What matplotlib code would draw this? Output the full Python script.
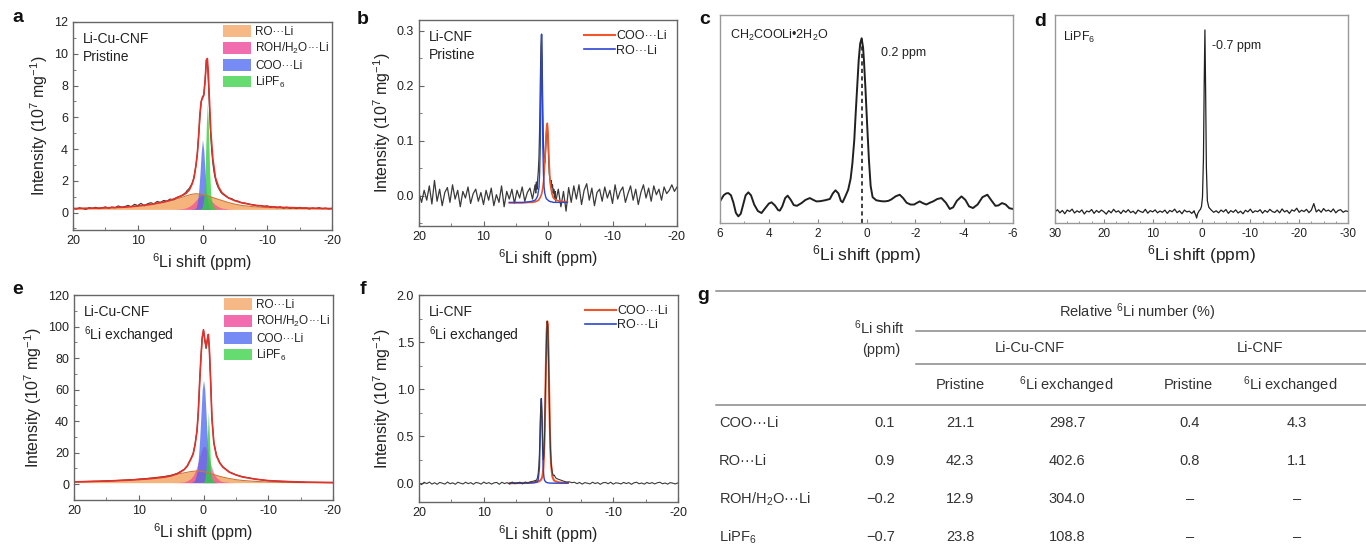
import numpy as np
import matplotlib
matplotlib.use('Agg')
from matplotlib import pyplot as plt
from matplotlib.patches import Patch
from matplotlib.lines import Line2D
from matplotlib.ticker import MultipleLocator, FormatStrFormatter

plt.rcParams['font.family'] = ['Liberation Sans', 'DejaVu Sans']
plt.rcParams['mathtext.fontset'] = 'custom'
plt.rcParams['mathtext.rm'] = 'Liberation Sans'
plt.rcParams['mathtext.it'] = 'Liberation Sans:italic'
plt.rcParams['mathtext.default'] = 'regular'
plt.rcParams['axes.unicode_minus'] = False

# ---------------- data ----------------
# shared ppm grid for fitted components of panels a and e
ppm_fit = [20, 16, 12, 10, 8, 6, 5, 4, 3, 2.5,
           2, 1.6, 1.3, 1.0, 0.8, 0.6, 0.4, 0.2, 0.0, -0.2,
           -0.4, -0.6, -0.75, -0.9, -1.1, -1.3, -1.6, -2, -2.5, -3,
           -4, -5, -6, -8, -10, -12, -16, -20]

# panel a : Li-Cu-CNF pristine
a_base = 0.2
a_ro = [0.25, 0.28, 0.34, 0.42, 0.52, 0.64, 0.73, 0.85, 0.98, 1.05,
        1.11, 1.15, 1.17, 1.18, 1.18, 1.17, 1.16, 1.15, 1.13, 1.11,
        1.09, 1.07, 1.05, 1.03, 1.0, 0.98, 0.94, 0.89, 0.82, 0.76,
        0.63, 0.53, 0.45, 0.36, 0.31, 0.28, 0.25, 0.23]
a_roh = [0.2, 0.2, 0.2, 0.2, 0.2, 0.2, 0.2, 0.21, 0.25, 0.3,
         0.4, 0.52, 0.65, 0.78, 0.87, 0.95, 1.01, 1.05, 1.07, 1.07,
         1.05, 1.01, 0.97, 0.92, 0.84, 0.76, 0.63, 0.49, 0.36, 0.28,
         0.22, 0.2, 0.2, 0.2, 0.2, 0.2, 0.2, 0.2]
a_coo = [0.2, 0.2, 0.2, 0.2, 0.2, 0.2, 0.2, 0.2, 0.2, 0.2,
         0.2, 0.21, 0.23, 0.3, 0.6, 1.3, 2.4, 3.8, 4.6, 3.9,
         2.5, 1.3, 0.75, 0.45, 0.27, 0.22, 0.2, 0.2, 0.2, 0.2,
         0.2, 0.2, 0.2, 0.2, 0.2, 0.2, 0.2, 0.2]
a_pf6 = [0.2, 0.2, 0.2, 0.2, 0.2, 0.2, 0.2, 0.2, 0.2, 0.2,
         0.2, 0.2, 0.2, 0.2, 0.2, 0.2, 0.2, 0.25, 0.4, 0.9,
         2.5, 5.6, 6.9, 5.6, 2.6, 1.0, 0.4, 0.25, 0.2, 0.2,
         0.2, 0.2, 0.2, 0.2, 0.2, 0.2, 0.2, 0.2]
a_fit = [0.25, 0.28, 0.34, 0.41, 0.51, 0.66, 0.77, 0.92, 1.1, 1.22,
         1.45, 1.8, 2.2, 3.0, 3.7, 4.8, 6.2, 7.0, 7.2, 7.4,
         8.3, 9.6, 9.7, 8.8, 6.8, 5.0, 3.4, 2.2, 1.6, 1.25,
         0.92, 0.74, 0.62, 0.46, 0.38, 0.33, 0.28, 0.25]
a_exp_left = [0.28, 0.22, 0.3, 0.25, 0.2, 0.31, 0.26, 0.33, 0.24, 0.3,
              0.36, 0.27, 0.35, 0.3, 0.42, 0.33, 0.38, 0.45, 0.36, 0.52,
              0.44, 0.58, 0.42, 0.55, 0.62, 0.55, 0.7, 0.64, 0.76, 0.72,
              0.85, 0.8, 0.95, 1.02, 1.12]                       # 20 -> 3 ppm
a_exp_mid = [1.12, 1.2, 1.25, 1.38, 1.45, 1.55, 1.7, 1.85, 2.1, 2.5,
             3.0, 3.7, 4.8, 6.0, 7.0, 7.3, 7.4, 8.3, 9.6, 9.2,
             7.4, 5.4, 4.0, 3.1, 2.5, 2.1, 1.8, 1.6, 1.45, 1.3,
             1.2]                                               # 3 -> -3 ppm
a_exp_right = [1.2, 1.05, 0.92, 0.88, 0.76, 0.72, 0.62, 0.6, 0.55, 0.5,
               0.48, 0.42, 0.45, 0.38, 0.42, 0.33, 0.38, 0.3, 0.36, 0.28,
               0.34, 0.27, 0.32, 0.25, 0.33, 0.27, 0.3, 0.22, 0.29, 0.25,
               0.31, 0.24, 0.28, 0.23, 0.27]                     # -3 -> -20 ppm

# panel e : Li-Cu-CNF 6Li exchanged
e_base = 1.0
e_ro = [1.5, 2.0, 2.6, 3.2, 4.0, 5.0, 5.7, 6.4, 7.2, 7.6,
        8.0, 8.2, 8.3, 8.4, 8.4, 8.3, 8.2, 8.1, 8.0, 7.8,
        7.6, 7.4, 7.2, 7.0, 6.8, 6.5, 6.1, 5.6, 5.0, 4.5,
        3.6, 2.9, 2.4, 1.8, 1.4, 1.2, 1.0, 1.0]
e_roh = [1.0, 1.0, 1.0, 1.0, 1.0, 1.0, 1.0, 1.1, 1.5, 2.2,
         3.5, 5.5, 8.0, 11.5, 14.5, 17.5, 20.5, 22.8, 24.0, 24.0,
         22.8, 20.5, 18.5, 16.2, 13.0, 10.2, 7.0, 4.2, 2.4, 1.6,
         1.1, 1.0, 1.0, 1.0, 1.0, 1.0, 1.0, 1.0]
e_coo = [1.0, 1.0, 1.0, 1.0, 1.0, 1.0, 1.0, 1.0, 1.0, 1.0,
         1.1, 1.5, 3.0, 8.0, 16.0, 28.0, 44.0, 60.0, 66.0, 60.0,
         44.0, 28.0, 18.0, 11.0, 6.0, 3.0, 1.6, 1.1, 1.0, 1.0,
         1.0, 1.0, 1.0, 1.0, 1.0, 1.0, 1.0, 1.0]
e_pf6 = [1.0, 1.0, 1.0, 1.0, 1.0, 1.0, 1.0, 1.0, 1.0, 1.0,
         1.0, 1.0, 1.0, 1.0, 1.0, 1.0, 1.0, 1.0, 1.5, 3.0,
         9.0, 30.0, 46.0, 32.0, 10.0, 3.5, 1.5, 1.0, 1.0, 1.0,
         1.0, 1.0, 1.0, 1.0, 1.0, 1.0, 1.0, 1.0]
e_fit = [1.5, 1.9, 2.5, 3.0, 3.6, 4.5, 5.3, 6.7, 9.2, 11.5,
         15.5, 19.0, 25.0, 34.0, 46.0, 64.0, 80.0, 93.0, 98.0, 92.0,
         87.0, 92.0, 95.0, 86.0, 66.0, 42.0, 26.0, 18.0, 13.5, 10.8,
         7.6, 5.9, 4.6, 3.2, 2.3, 1.8, 1.3, 1.1]
e_exp = [1.6, 1.8, 2.6, 3.1, 3.8, 4.7, 5.6, 7.0, 9.4, 11.8,
         15.8, 19.5, 25.5, 34.0, 46.0, 64.0, 80.0, 93.0, 97.5, 91.0,
         86.0, 91.5, 94.5, 86.0, 66.0, 42.0, 26.5, 18.5, 13.8, 11.0,
         7.8, 6.0, 4.8, 3.3, 2.2, 1.9, 1.2, 1.0]

# ppm grid for fitted lines of panels b and f
ppm_line = [6, 4, 3, 2.5, 2, 1.8, 1.6, 1.4, 1.3, 1.2,
            1.1, 1.0, 0.9, 0.8, 0.7, 0.6, 0.5, 0.4, 0.3, 0.2,
            0.1, 0.0, -0.1, -0.2, -0.3, -0.4, -0.6, -0.8, -1.0, -1.5,
            -2, -3]

# panel b : Li-CNF pristine
b_coo = [-0.013, -0.013, -0.012, -0.012, -0.011, -0.01, -0.009, -0.007, -0.005, -0.003,
         0.0, 0.003, 0.008, 0.015, 0.025, 0.04, 0.06, 0.085, 0.11, 0.128,
         0.132, 0.115, 0.085, 0.055, 0.032, 0.018, 0.004, -0.003, -0.006, -0.009,
         -0.01, -0.011]
b_ro = [-0.012, -0.012, -0.011, -0.01, -0.008, -0.005, 0.0, 0.015, 0.04, 0.09,
        0.2, 0.294, 0.2, 0.09, 0.04, 0.015, 0.005, 0.0, -0.004, -0.006,
        -0.007, -0.008, -0.009, -0.01, -0.01, -0.011, -0.011, -0.012, -0.012, -0.012,
        -0.012, -0.012]
b_exp_left = [0.005, -0.012, 0.01, -0.008, 0.018, -0.015, 0.028, -0.01, 0.012, -0.018,
              0.006, 0.015, -0.012, 0.02, -0.006, 0.01, -0.02, 0.008, -0.004, 0.016,
              -0.014, 0.004, 0.012, -0.01, 0.006, -0.016, 0.01, -0.008, 0.014, -0.018,
              0.002, -0.012, 0.018, -0.02, 0.008, -0.006, 0.012, -0.014, 0.01, -0.004,
              0.016, -0.01, 0.006, 0.014, -0.006, 0.02]          # 20 -> 2 ppm
b_exp_mid = [0.02, 0.005, 0.025, 0.012, 0.03, 0.045, 0.07, 0.12, 0.2, 0.27,
             0.294, 0.25, 0.15, 0.09, 0.07, 0.06, 0.075, 0.1, 0.125, 0.128,
             0.1, 0.065, 0.04, 0.03, 0.02, 0.028, 0.015, 0.02, 0.005, 0.012,
             -0.005, 0.008, -0.01]                               # 2 -> -1.2 ppm
b_exp_right = [-0.01, 0.012, -0.02, 0.008, -0.028, 0.015, -0.012, 0.018, -0.006, 0.02,
               -0.016, 0.01, 0.022, -0.008, 0.014, -0.018, 0.006, 0.012, -0.01, 0.016,
               -0.004, 0.01, -0.014, 0.02, -0.006, 0.008, 0.016, -0.012, 0.004, 0.018,
               -0.008, 0.012, -0.016, 0.006, 0.02, -0.004, 0.014, -0.01, 0.018, 0.002,
               0.012, -0.008, 0.016, 0.004, 0.01, 0.02, 0.008, 0.016]  # -1.2 -> -20 ppm

# panel f : Li-CNF 6Li exchanged
f_coo = [0.0, 0.002, 0.004, 0.006, 0.01, 0.012, 0.016, 0.022, 0.027, 0.034,
         0.044, 0.06, 0.09, 0.15, 0.28, 0.5, 0.85, 1.25, 1.58, 1.72,
         1.68, 1.4, 1.0, 0.62, 0.36, 0.2, 0.07, 0.035, 0.022, 0.01,
         0.006, 0.003]
f_ro = [0.0, 0.0, 0.002, 0.004, 0.008, 0.012, 0.03, 0.16, 0.42, 0.78,
        0.9, 0.7, 0.35, 0.14, 0.06, 0.03, 0.02, 0.012, 0.008, 0.006,
        0.004, 0.003, 0.002, 0.002, 0.001, 0.001, 0.0, 0.0, 0.0, 0.0,
        0.0, 0.0]
f_exp_left = [0.0, -0.015, 0.01, -0.005, 0.012, -0.01, 0.005, -0.012, 0.008, 0.0,
              -0.01, 0.012, -0.006, 0.004, -0.012, 0.01, 0.0, -0.008, 0.01, -0.005,
              0.006, -0.012, 0.008, 0.002, -0.01, 0.012, -0.004, 0.006, -0.01, 0.004,
              0.008, -0.012, 0.01, -0.004, 0.006, -0.01, 0.012, -0.006, 0.004, 0.01,
              -0.008, 0.012, 0.0, 0.015, 0.02, 0.03]
f_exp_mid = [0.02, 0.03, 0.04, 0.06, 0.1, 0.18, 0.32, 0.58, 0.82, 0.9,
             0.7, 0.4, 0.25, 0.3, 0.55, 0.9, 1.25, 1.55, 1.72, 1.66,
             1.35, 0.95, 0.6, 0.36, 0.22, 0.15, 0.11, 0.09, 0.08, 0.085,
             0.07, 0.06, 0.05]
f_exp_right = [0.05, 0.04, 0.03, 0.02, 0.012, 0.015, 0.005, 0.01, -0.005, 0.008,
               -0.01, 0.006, 0.0, -0.008, 0.01, -0.004, 0.006, -0.012, 0.004, 0.008,
               -0.006, 0.01, -0.01, 0.004, 0.0, -0.008, 0.008, -0.004, 0.006, -0.012,
               0.004, 0.01, -0.006, 0.002, -0.01, 0.008, -0.004, 0.006, -0.008, 0.004,
               0.01, -0.006, 0.002, -0.01, 0.006, 0.0, -0.008, 0.004]

# panel c : CH2COOLi.2H2O reference
c_ppm = [6.0, 5.85, 5.75, 5.66, 5.55, 5.45, 5.35, 5.25, 5.15, 5.05,
         4.95, 4.84, 4.73, 4.6, 4.45, 4.3, 4.15, 4.0, 3.89, 3.75,
         3.62, 3.55, 3.45, 3.33, 3.23, 3.1, 2.98, 2.85, 2.66, 2.5,
         2.32, 2.18, 2.05, 1.9, 1.7, 1.5, 1.38, 1.27, 1.15, 1.05,
         0.98, 0.88, 0.75, 0.65, 0.58, 0.5, 0.44, 0.38, 0.32, 0.26,
         0.2, 0.14, 0.1, 0.04, -0.02, -0.1, -0.17, -0.25, -0.4, -0.6,
         -0.75, -0.9, -1.02, -1.2, -1.36, -1.5, -1.64, -1.8, -1.95, -2.08,
         -2.18, -2.3, -2.45, -2.6, -2.73, -2.9, -3.07, -3.25, -3.41, -3.55,
         -3.7, -3.89, -4.05, -4.2, -4.36, -4.55, -4.75, -4.95, -5.1, -5.28,
         -5.4, -5.55, -5.7, -5.85, -6.0]
c_int = [0.117, 0.15, 0.16, 0.162, 0.15, 0.11, 0.055, 0.036, 0.05, 0.1,
         0.15, 0.166, 0.15, 0.1, 0.065, 0.054, 0.08, 0.105, 0.112, 0.095,
         0.07, 0.067, 0.09, 0.135, 0.148, 0.125, 0.097, 0.093, 0.108, 0.125,
         0.135, 0.125, 0.117, 0.118, 0.123, 0.13, 0.16, 0.177, 0.16, 0.12,
         0.112, 0.14, 0.18, 0.24, 0.32, 0.45, 0.6, 0.74, 0.88, 0.97,
         1.0, 0.95, 0.87, 0.72, 0.55, 0.34, 0.2, 0.14, 0.123, 0.118,
         0.117, 0.12, 0.128, 0.145, 0.153, 0.135, 0.11, 0.1, 0.1, 0.11,
         0.117, 0.108, 0.1, 0.11, 0.117, 0.13, 0.135, 0.11, 0.076, 0.085,
         0.12, 0.144, 0.125, 0.09, 0.081, 0.1, 0.14, 0.153, 0.125, 0.093,
         0.095, 0.108, 0.1, 0.08, 0.076]
c_peak_ppm = 0.2

# panel d : LiPF6 reference
d_left = [0.06, 0.072, 0.055, 0.068, 0.05, 0.07, 0.062, 0.075, 0.054, 0.066,
          0.058, 0.071, 0.049, 0.065, 0.06, 0.073, 0.052, 0.068, 0.057, 0.07,
          0.061, 0.048, 0.067, 0.055, 0.074, 0.059, 0.066, 0.051, 0.069, 0.058,
          0.072, 0.056, 0.064, 0.05, 0.07, 0.062, 0.057, 0.074, 0.053, 0.067,
          0.06, 0.071, 0.055, 0.065, 0.058, 0.07, 0.052, 0.068, 0.061, 0.075,
          0.056, 0.066, 0.05, 0.07, 0.06, 0.064, 0.052, 0.066]   # 30 -> 1.5 ppm
d_mid_ppm = [1.5, 1.2, 1.0, 0.8, 0.5, 0.2, 0.0, -0.2, -0.4, -0.55,
             -0.7, -0.85, -1.0, -1.2, -1.5, -2.0, -2.5, -3.0]
d_mid = [0.06, 0.045, 0.027, 0.05, 0.065, 0.075, 0.09, 0.14, 0.35, 0.75,
         1.045, 0.7, 0.3, 0.12, 0.085, 0.07, 0.058, 0.066]
d_right = [0.066, 0.055, 0.07, 0.06, 0.073, 0.052, 0.067, 0.058, 0.071, 0.054,
           0.064, 0.05, 0.069, 0.06, 0.075, 0.056, 0.066, 0.061, 0.072, 0.053,
           0.068, 0.058, 0.074, 0.062, 0.057, 0.07, 0.055, 0.076, 0.06, 0.068,
           0.052, 0.071, 0.064, 0.08, 0.058, 0.069, 0.062, 0.074, 0.056, 0.07,
           0.105, 0.06, 0.072, 0.058, 0.078, 0.064, 0.07, 0.06, 0.076, 0.055,
           0.068, 0.072, 0.058, 0.066, 0.062]                    # -3 -> -30 ppm

# panel g : table
g_species = ['COO\u00b7\u00b7\u00b7Li', 'RO\u00b7\u00b7\u00b7Li',
             'ROH/H$_2$O\u00b7\u00b7\u00b7Li', 'LiPF$_6$']
g_shift = [0.1, 0.9, -0.2, -0.7]
g_cu_pristine = [21.1, 42.3, 12.9, 23.8]
g_cu_exchanged = [298.7, 402.6, 304.0, 108.8]
g_cnf_pristine = [0.4, 0.8, None, None]
g_cnf_exchanged = [4.3, 1.1, None, None]

comp_labels = ['RO\u00b7\u00b7\u00b7Li', 'ROH/H$_2$O\u00b7\u00b7\u00b7Li',
               'COO\u00b7\u00b7\u00b7Li', 'LiPF$_6$']

# ---------------- styling ----------------
C_RO, C_ROH, C_COO, C_PF6 = '#f4a25c', '#ee3c96', '#4a64f2', '#33d040'
C_FIT = '#e2302a'
C_FIT2 = '#f0562c'
C_BLUE = '#2b46d0'
C_EXP = '#3a3a3a'
TXT = '#222222'
SPINE = '#666666'
W, H = 1366, 545


def box(l, t, r, b):
    return [l / W, 1 - b / H, (r - l) / W, (b - t) / H]


def trace(*segments):
    xs, ys = [], []
    for start, stop, vals in segments:
        xs.append(np.linspace(start, stop, len(vals)))
        ys.append(np.asarray(vals, float))
    return np.concatenate(xs), np.concatenate(ys)


def spectrum_axes(ax, ylim, ystep, fmt):
    ax.set_xlim(20, -20)
    ax.set_ylim(*ylim)
    ax.xaxis.set_major_locator(MultipleLocator(10))
    ax.xaxis.set_minor_locator(MultipleLocator(5))
    ax.yaxis.set_major_locator(MultipleLocator(ystep))
    ax.yaxis.set_minor_locator(MultipleLocator(ystep / 2))
    ax.yaxis.set_major_formatter(FormatStrFormatter(fmt))
    ax.tick_params(which='both', direction='in', labelsize=9, colors=SPINE,
                   labelcolor=TXT)
    ax.tick_params(which='major', length=3.5)
    ax.tick_params(which='minor', length=2)
    for s in ax.spines.values():
        s.set_color(SPINE)
        s.set_linewidth(1.0)
    ax.set_xlabel('$^6$Li shift (ppm)', fontsize=11.5, color=TXT, labelpad=3)
    ax.set_ylabel('Intensity (10$^7$ mg$^{-1}$)', fontsize=11.5, color=TXT,
                  labelpad=3)


def components(ax, base, ro, roh, coo, pf6, fit, ex, ey):
    ax.fill_between(ppm_fit, base, ro, color=C_RO, alpha=0.8, lw=0)
    ax.plot(ppm_fit, ro, color='#c8783c', lw=0.8)
    ax.fill_between(ppm_fit, base, roh, color=C_ROH, alpha=0.6, lw=0)
    ax.fill_between(ppm_fit, base, coo, color=C_COO, alpha=0.75, lw=0)
    ax.fill_between(ppm_fit, base, pf6, color=C_PF6, alpha=0.8, lw=0)
    ax.plot(ex, ey, color=C_EXP, lw=0.8)
    ax.plot(ppm_fit, fit, color=C_FIT, lw=1.2)
    handles = [Patch(facecolor=c, alpha=0.75, edgecolor='none')
               for c in (C_RO, C_ROH, C_COO, C_PF6)]
    ax.legend(handles, comp_labels, loc='upper right', frameon=False,
              fontsize=8.5, handlelength=2.4, handleheight=1.15,
              labelspacing=0.25, handletextpad=0.3, borderaxespad=0.15,
              borderpad=0.1, labelcolor=TXT)


def line_legend(ax):
    handles = [Line2D([], [], color=C_FIT2, lw=1.5), Line2D([], [], color=C_BLUE, lw=1.2)]
    ax.legend(handles, ['COO\u00b7\u00b7\u00b7Li', 'RO\u00b7\u00b7\u00b7Li'],
              loc='upper right', frameon=False, fontsize=9, handlelength=2.5,
              handletextpad=0.1, labelspacing=0.2, borderaxespad=0.3,
              borderpad=0.5, labelcolor=TXT)


fig = plt.figure(figsize=(13.66, 5.45), dpi=100)

# ---- a ----
ax_a = fig.add_axes(box(73, 22, 332, 230))
ax, ay = trace((20, 3, a_exp_left), (3, -3, a_exp_mid), (-3, -20, a_exp_right))
components(ax_a, a_base, a_ro, a_roh, a_coo, a_pf6, a_fit, ax, ay)
spectrum_axes(ax_a, (-1.1, 12), 2, '%d')
ax_a.text(0.04, 0.95, 'Li-Cu-CNF\nPristine', transform=ax_a.transAxes,
          va='top', fontsize=10, color=TXT, linespacing=1.3)

# ---- e ----
ax_e = fig.add_axes(box(74, 295, 333, 500))
components(ax_e, e_base, e_ro, e_roh, e_coo, e_pf6, e_fit, ppm_fit, e_exp)
spectrum_axes(ax_e, (-10, 120), 20, '%d')
ax_e.text(0.04, 0.95, 'Li-Cu-CNF\n$^6$Li exchanged', transform=ax_e.transAxes,
          va='top', fontsize=10, color=TXT, linespacing=1.3)

# ---- b ----
ax_b = fig.add_axes(box(419, 20, 677, 226))
bx, by = trace((20, 2, b_exp_left), (2, -1.2, b_exp_mid), (-1.2, -20, b_exp_right))
ax_b.plot(bx, by, color=C_EXP, lw=0.9)
ax_b.plot(ppm_line, b_coo, color=C_FIT2, lw=1.2)
ax_b.plot(ppm_line, b_ro, color=C_BLUE, lw=1.0)
spectrum_axes(ax_b, (-0.055, 0.32), 0.1, '%.1f')
line_legend(ax_b)
ax_b.text(0.04, 0.95, 'Li-CNF\nPristine', transform=ax_b.transAxes,
          va='top', fontsize=10, color=TXT, linespacing=1.3)

# ---- f ----
ax_f = fig.add_axes(box(419, 295, 678, 502))
fx, fy = trace((20, 2, f_exp_left), (2, -1.2, f_exp_mid), (-1.2, -20, f_exp_right))
ax_f.plot(ppm_line, f_coo, color=C_FIT2, lw=1.5)
ax_f.plot(ppm_line, f_ro, color=C_BLUE, lw=1.0)
ax_f.plot(fx, fy, color=C_EXP, lw=0.8)
spectrum_axes(ax_f, (-0.2, 2.0), 0.5, '%.1f')
line_legend(ax_f)
ax_f.text(0.04, 0.95, 'Li-CNF\n$^6$Li exchanged', transform=ax_f.transAxes,
          va='top', fontsize=10, color=TXT, linespacing=1.3)

# ---- c ----
ax_c = fig.add_axes(box(720, 15, 1013, 223))
ax_c.plot(c_ppm, c_int, color='#202020', lw=1.4)
ax_c.vlines(c_peak_ppm, 0, max(c_int), colors='#202020', linestyles=(0, (2.5, 2)),
            lw=1.2)
ax_c.set_xlim(6, -6)
ax_c.set_ylim(0, 1.126)
ax_c.text(-0.6, 0.92, '0.2 ppm', fontsize=9, color=TXT, va='center')
ax_c.text(0.034, 0.9, 'CH$_2$COOLi\u20222H$_2$O', transform=ax_c.transAxes,
          fontsize=9, color=TXT, va='center')
ax_c.xaxis.set_major_locator(MultipleLocator(2))
ax_c.xaxis.set_minor_locator(MultipleLocator(1))

# ---- d ----
ax_d = fig.add_axes(box(1055, 15, 1348, 223))
dx, dy = trace((30, 1.5, d_left))
dx2, dy2 = trace((-3, -30, d_right))
ax_d.plot(np.concatenate([dx, d_mid_ppm, dx2]), np.concatenate([dy, d_mid, dy2]),
          color='#202020', lw=0.9)
ax_d.set_xlim(30, -30)
ax_d.set_ylim(0, 1.126)
ax_d.text(-2.2, 0.96, '-0.7 ppm', fontsize=9, color=TXT, va='center')
ax_d.text(0.027, 0.89, 'LiPF$_6$', transform=ax_d.transAxes, fontsize=9,
          color=TXT, va='center')
ax_d.xaxis.set_major_locator(MultipleLocator(10))
ax_d.xaxis.set_minor_locator(MultipleLocator(2.5))

for axx in (ax_c, ax_d):
    axx.set_yticks([])
    axx.tick_params(which='both', direction='in', labelsize=8.5, colors='#888888',
                    labelcolor=TXT)
    axx.tick_params(which='major', length=3)
    axx.tick_params(which='minor', length=1.5)
    for s in axx.spines.values():
        s.set_color('#999999')
        s.set_linewidth(1.0)
    axx.set_xlabel('$^6$Li shift (ppm)', fontsize=12.5, color=TXT, labelpad=2)

# ---- panel letters ----
for letter, (px, py) in zip('abcdefg', [(18, 18), (363, 19), (705, 19), (1040, 21),
                                         (18, 290), (363, 290), (703, 296)]):
    fig.text(px / W, 1 - py / H, letter, fontsize=14, fontweight='bold',
             color='#111111', ha='center', va='center')

# ---- g : table ----
ax_g = fig.add_axes([0, 0, 1, 1])
ax_g.set_xlim(0, W)
ax_g.set_ylim(H, 0)
ax_g.axis('off')
ax_g.patch.set_alpha(0)
rule = dict(color='#888888', lw=1.1)
ax_g.plot([716, W], [291, 291], **rule)
ax_g.plot([916, W], [331, 331], **rule)
ax_g.plot([916, W], [364, 364], **rule)
ax_g.plot([716, W], [405, 405], **rule)
tk = dict(fontsize=10.5, color='#333333', va='center')
ax_g.text(1137, 312, 'Relative $^6$Li number (%)', ha='center', **tk)
ax_g.text(879, 328, '$^6$Li shift', ha='center', **tk)
ax_g.text(881, 350, '(ppm)', ha='center', **tk)
ax_g.text(1030, 348, 'Li-Cu-CNF', ha='center', **tk)
ax_g.text(1260, 348, 'Li-CNF', ha='center', **tk)
for cx, head in zip([960, 1066, 1188, 1290],
                    ['Pristine', '$^6$Li exchanged', 'Pristine', '$^6$Li exchanged']):
    ax_g.text(cx, 385, head, ha='center', **tk)


def cell(v):
    if v is None:
        return '\u2013'
    return ('%.1f' % v).replace('-', '\u2212')


for i, name in enumerate(g_species):
    ry = 423 + 38 * i
    ax_g.text(719, ry, name, ha='left', **tk)
    ax_g.text(895, ry, cell(g_shift[i]), ha='right', **tk)
    ax_g.text(960, ry, cell(g_cu_pristine[i]), ha='center', **tk)
    ax_g.text(1067, ry, cell(g_cu_exchanged[i]), ha='center', **tk)
    ax_g.text(1190, ry, cell(g_cnf_pristine[i]), ha='center', **tk)
    ax_g.text(1297, ry, cell(g_cnf_exchanged[i]), ha='center', **tk)

fig.savefig('out.png', dpi=100)
